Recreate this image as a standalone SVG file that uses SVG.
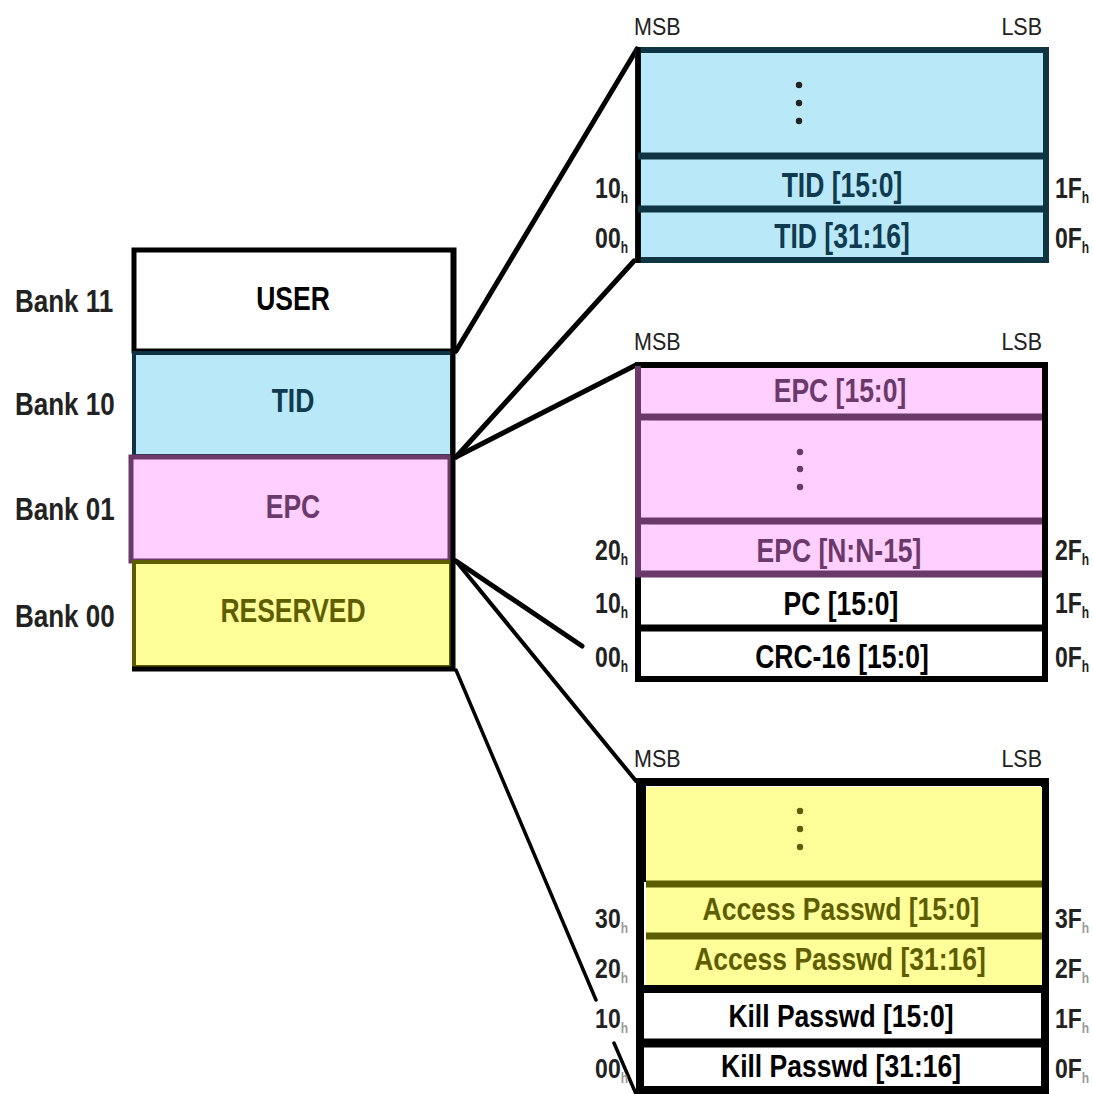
<svg xmlns="http://www.w3.org/2000/svg" width="1093" height="1094" viewBox="0 0 1093 1094">
<style>
text{font-family:"Liberation Sans",Arial,sans-serif;font-weight:700}
.bank{font-size:26px;fill:#222}
.lbl{font-size:26.5px;text-anchor:middle}
.sb{font-size:21.5px;font-weight:400;fill:#222}
.adr{font-size:23px;fill:#222}
.sub{font-size:12px}
.tidc{fill:#0f3a4f}
.epcc{fill:#6b3a6b}
.resc{fill:#5e5e00}
.blk{fill:#000}
.dot{fill:#222}
</style>
<rect width="1093" height="1094" fill="#fff"/>

<g id="connectors" stroke="#000" stroke-linecap="round" fill="none">
<line x1="456" y1="351" x2="637" y2="49" stroke-width="5"/>
<line x1="456" y1="457" x2="634" y2="261" stroke-width="5"/>
<line x1="456" y1="457" x2="636" y2="365" stroke-width="5"/>
<line x1="456" y1="561" x2="582" y2="646" stroke-width="5"/>
<line x1="456" y1="561" x2="636" y2="781" stroke-width="4"/>
<line x1="456" y1="670" x2="596" y2="1000" stroke-width="3.5"/>
<line x1="614" y1="1043" x2="636" y2="1094" stroke-width="3.5"/>
</g>

<g id="bank-labels">
<text class="bank" transform="translate(15 312) scale(1 1.23)">Bank 11</text>
<text class="bank" transform="translate(15 415) scale(1 1.23)">Bank 10</text>
<text class="bank" transform="translate(15 520) scale(1 1.23)">Bank 01</text>
<text class="bank" transform="translate(15 627) scale(1 1.23)">Bank 00</text>
</g>

<g id="bank-user">
<rect x="134" y="250" width="320" height="101" fill="#fff" stroke="#000" stroke-width="5"/>
<text class="lbl blk" transform="translate(293 310) scale(1 1.23)">USER</text>
</g>
<g id="bank-tid">
<rect x="134" y="353" width="318" height="103" fill="#b9e8f8" stroke="#0f3342" stroke-width="4"/>
<text class="lbl tidc" transform="translate(293 412) scale(1 1.23)">TID</text>
</g>
<g id="bank-epc">
<rect x="131" y="457" width="319" height="104" fill="#ffd0ff" stroke="#6b3a6b" stroke-width="5"/>
<text class="lbl epcc" transform="translate(293 518) scale(1 1.23)">EPC</text>
</g>
<g id="bank-reserved">
<rect x="134" y="562" width="317" height="105" fill="#ffff99" stroke="#5c5c00" stroke-width="4"/>
<text class="lbl resc" transform="translate(293 622) scale(1 1.23)">RESERVED</text>
</g>
<g id="bank-outline" stroke="#000" stroke-width="5" fill="none">
<line x1="453" y1="248" x2="453" y2="671"/>
<line x1="132" y1="669" x2="455" y2="669"/>
</g>

<g id="tid-memory">
<rect x="638" y="50" width="408" height="210" fill="#b9e8f8" stroke="#0f3545" stroke-width="6"/>
<line x1="638" y1="47" x2="638" y2="263" stroke="#000" stroke-width="5"/>
<line x1="638" y1="156" x2="1046" y2="156" stroke="#0f3545" stroke-width="7"/>
<line x1="638" y1="209" x2="1046" y2="209" stroke="#0f3545" stroke-width="7"/>
<circle class="dot" cx="799" cy="85" r="3.2"/>
<circle class="dot" cx="799" cy="103" r="3.2"/>
<circle class="dot" cx="799" cy="121" r="3.2"/>
<text class="lbl tidc" transform="translate(842 197) scale(1 1.3)">TID [15:0]</text>
<text class="lbl tidc" transform="translate(842 248) scale(1 1.3)">TID [31:16]</text>
<text class="sb" transform="translate(634 35) scale(1 1.12)">MSB</text>
<text class="sb" text-anchor="end" transform="translate(1042 35) scale(1 1.12)">LSB</text>
<text class="adr" text-anchor="end" transform="translate(628 198) scale(1 1.3)">10<tspan class="sub" dy="4">h</tspan></text>
<text class="adr" text-anchor="end" transform="translate(628 248) scale(1 1.3)">00<tspan class="sub" dy="4">h</tspan></text>
<text class="adr" transform="translate(1055 198) scale(1 1.3)">1F<tspan class="sub" dy="4">h</tspan></text>
<text class="adr" transform="translate(1055 248) scale(1 1.3)">0F<tspan class="sub" dy="4">h</tspan></text>
</g>

<g id="epc-memory">
<rect x="638" y="365" width="407" height="314" fill="#fff" stroke="#000" stroke-width="6"/>
<rect x="638" y="368" width="404" height="207" fill="#ffd0ff"/>
<line x1="638" y1="366" x2="638" y2="576" stroke="#6b3a6b" stroke-width="6"/>
<line x1="638" y1="417" x2="1042" y2="417" stroke="#6b3a6b" stroke-width="7"/>
<line x1="638" y1="521" x2="1042" y2="521" stroke="#6b3a6b" stroke-width="7"/>
<line x1="635" y1="574" x2="1042" y2="574" stroke="#6b3a6b" stroke-width="7"/>
<line x1="638" y1="628" x2="1045" y2="628" stroke="#000" stroke-width="7"/>
<circle cx="800" cy="452" r="3.2" fill="#6b3a6b"/>
<circle cx="800" cy="469" r="3.2" fill="#6b3a6b"/>
<circle cx="800" cy="487" r="3.2" fill="#6b3a6b"/>
<text class="lbl epcc" transform="translate(840 402) scale(1 1.25)">EPC [15:0]</text>
<text class="lbl epcc" transform="translate(839 562) scale(1 1.25)">EPC [N:N-15]</text>
<text class="lbl blk" transform="translate(841 615) scale(1 1.25)">PC [15:0]</text>
<text class="lbl blk" transform="translate(842 668) scale(1 1.25)">CRC-16 [15:0]</text>
<text class="sb" transform="translate(634 350) scale(1 1.12)">MSB</text>
<text class="sb" text-anchor="end" transform="translate(1042 350) scale(1 1.12)">LSB</text>
<text class="adr" text-anchor="end" transform="translate(628 560) scale(1 1.3)">20<tspan class="sub" dy="4">h</tspan></text>
<text class="adr" text-anchor="end" transform="translate(628 613) scale(1 1.3)">10<tspan class="sub" dy="4">h</tspan></text>
<text class="adr" text-anchor="end" transform="translate(628 667) scale(1 1.3)">00<tspan class="sub" dy="4">h</tspan></text>
<text class="adr" transform="translate(1055 560) scale(1 1.3)">2F<tspan class="sub" dy="4">h</tspan></text>
<text class="adr" transform="translate(1055 613) scale(1 1.3)">1F<tspan class="sub" dy="4">h</tspan></text>
<text class="adr" transform="translate(1055 667) scale(1 1.3)">0F<tspan class="sub" dy="4">h</tspan></text>
</g>

<g id="reserved-memory">
<rect x="640" y="782" width="405" height="308" fill="#fff" stroke="#000" stroke-width="8"/>
<rect x="646" y="787" width="396" height="198" fill="#ffff99"/>
<rect x="638" y="784" width="8" height="98" fill="#000"/>
<line x1="646" y1="884" x2="1042" y2="884" stroke="#5c5c00" stroke-width="7"/>
<line x1="646" y1="936" x2="1042" y2="936" stroke="#5c5c00" stroke-width="7"/>
<line x1="638" y1="989" x2="1045" y2="989" stroke="#000" stroke-width="8"/>
<line x1="638" y1="1043" x2="1045" y2="1043" stroke="#000" stroke-width="9"/>
<circle cx="800" cy="811" r="3.2" fill="#5e5e00"/>
<circle cx="800" cy="829" r="3.2" fill="#5e5e00"/>
<circle cx="800" cy="847" r="3.2" fill="#5e5e00"/>
<text class="lbl resc" transform="translate(841 920) scale(1 1.15)">Access Passwd [15:0]</text>
<text class="lbl resc" transform="translate(840 970) scale(1 1.15)">Access Passwd [31:16]</text>
<text class="lbl blk" transform="translate(841 1027) scale(1 1.15)">Kill Passwd [15:0]</text>
<text class="lbl blk" transform="translate(841 1077) scale(1 1.15)">Kill Passwd [31:16]</text>
<text class="sb" transform="translate(634 767) scale(1 1.12)">MSB</text>
<text class="sb" text-anchor="end" transform="translate(1042 767) scale(1 1.12)">LSB</text>
<text class="adr" text-anchor="end" transform="translate(628 928) scale(1 1.2)">30<tspan class="sub" dy="4" fill="#999">h</tspan></text>
<text class="adr" text-anchor="end" transform="translate(628 978) scale(1 1.2)">20<tspan class="sub" dy="4" fill="#999">h</tspan></text>
<text class="adr" text-anchor="end" transform="translate(628 1028) scale(1 1.2)">10<tspan class="sub" dy="4" fill="#999">h</tspan></text>
<text class="adr" text-anchor="end" transform="translate(628 1078) scale(1 1.2)">00<tspan class="sub" dy="4" fill="#999">h</tspan></text>
<text class="adr" transform="translate(1055 928) scale(1 1.2)">3F<tspan class="sub" dy="4" fill="#999">h</tspan></text>
<text class="adr" transform="translate(1055 978) scale(1 1.2)">2F<tspan class="sub" dy="4" fill="#999">h</tspan></text>
<text class="adr" transform="translate(1055 1028) scale(1 1.2)">1F<tspan class="sub" dy="4" fill="#999">h</tspan></text>
<text class="adr" transform="translate(1055 1078) scale(1 1.2)">0F<tspan class="sub" dy="4" fill="#999">h</tspan></text>
</g>
</svg>
